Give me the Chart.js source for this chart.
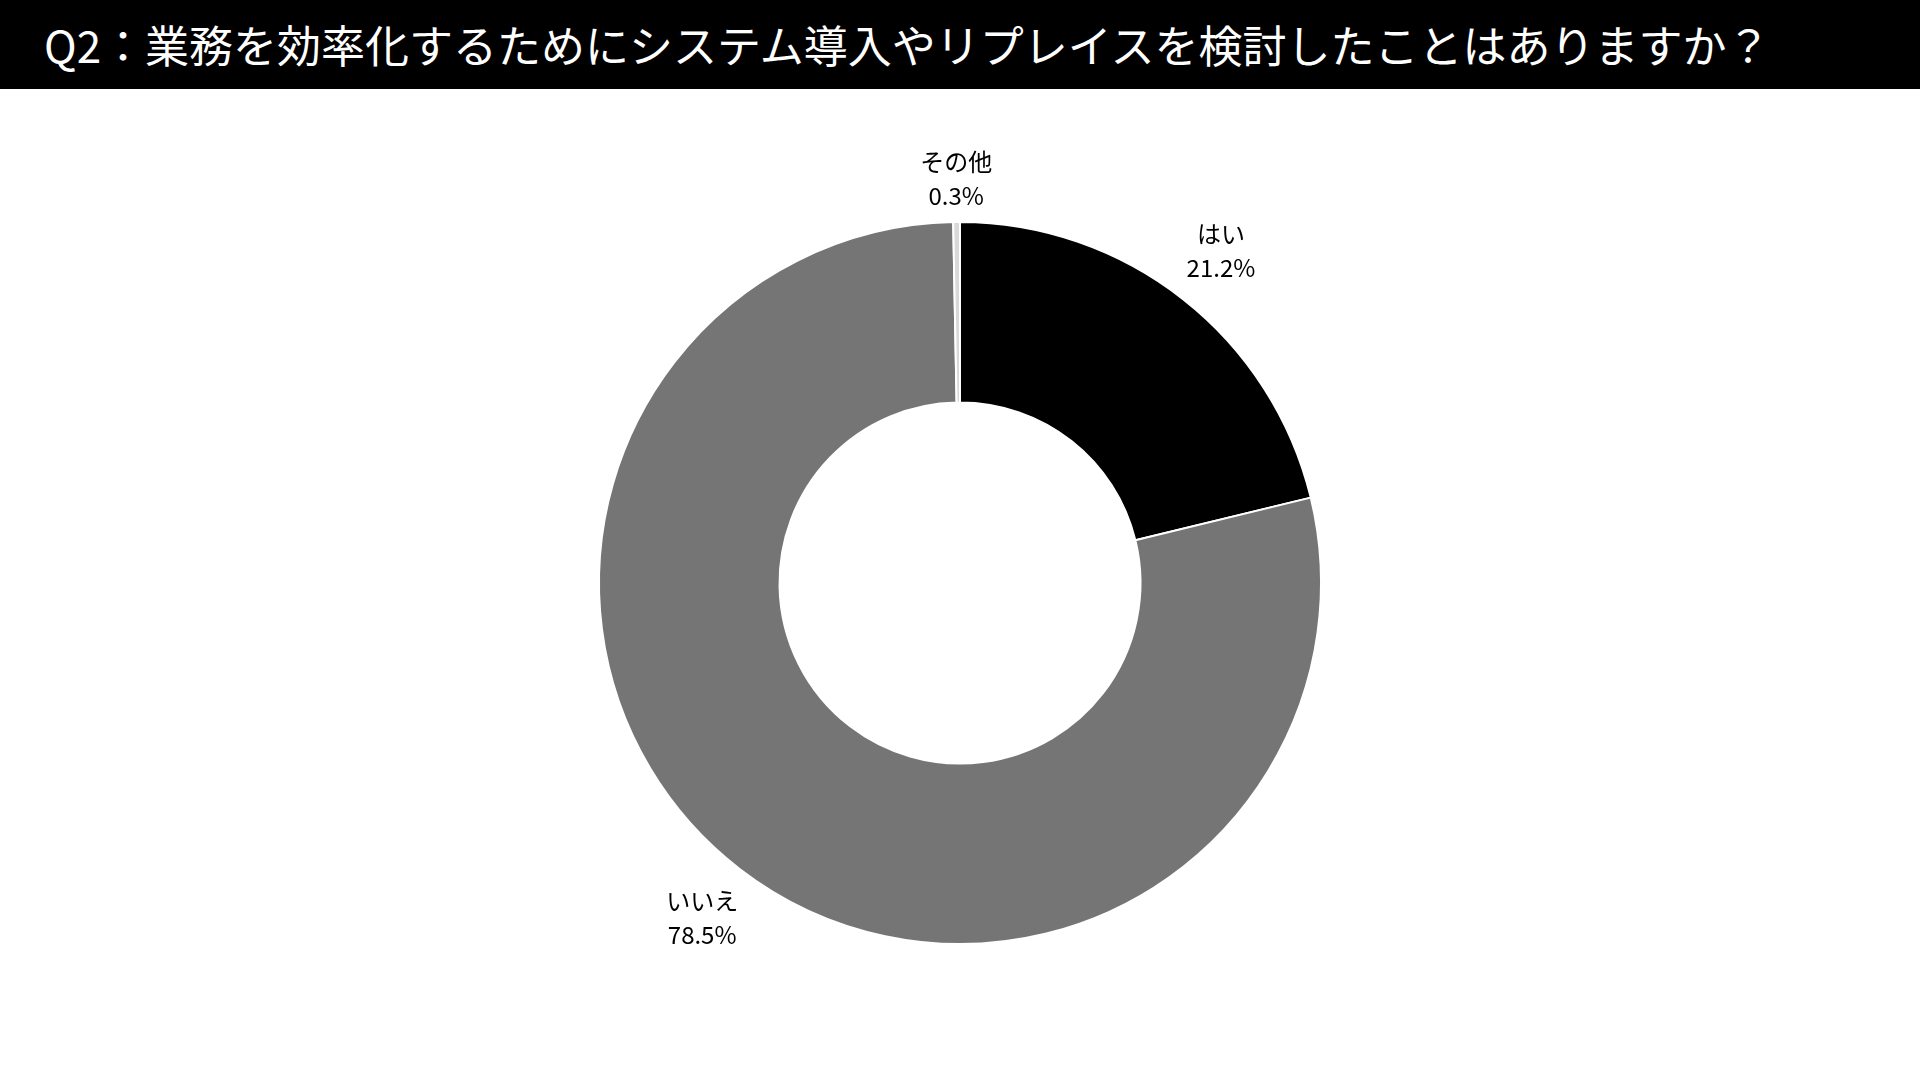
<!DOCTYPE html>
<html>
<head>
<meta charset="utf-8">
<script src="https://cdn.jsdelivr.net/npm/chart.js@4"></script>
<style>
  body { margin: 0; width: 1920px; height: 1080px; background: #fff; overflow: hidden;
         font-family: "Noto Sans CJK JP", "Noto Sans", sans-serif; }
  .title { position: absolute; left: 0; top: 0; width: 1920px; height: 89px; background: #000;
           color: #fff; font-size: 44px; line-height: 89px; padding-left: 44px; box-sizing: border-box; }
  .chart-box { position: absolute; left: 0; top: 89px; width: 1920px; height: 988px; }
</style>
</head>
<body>
<div class="title">Q2：業務を効率化するためにシステム導入やリプレイスを検討したことはありますか？</div>
<div class="chart-box"><canvas id="chart"></canvas></div>
<script>
const labels = ["はい", "いいえ", "その他"];
const values = [21.2, 78.5, 0.3];
const colors = ["#000000", "#757575", "#d9d9d9"];

// draws "label / value%" outside each slice
const outsideLabels = {
    id: "outsideLabels",
    afterDatasetsDraw(chart) {
        const { ctx } = chart;
        const meta = chart.getDatasetMeta(0);
        ctx.save();
        ctx.fillStyle = "#000";
        ctx.font = '24px "Noto Sans CJK JP"';
        ctx.textAlign = "center";
        ctx.textBaseline = "middle";
        meta.data.forEach((arc, i) => {
            const mid = (arc.startAngle + arc.endAngle) / 2;
            const r = arc.outerRadius * (i === 2 ? 1.12 : 1.17);
            const x = arc.x + Math.cos(mid) * r;
            const y = arc.y + Math.sin(mid) * r;
            ctx.fillText(labels[i], x, y - 17);
            ctx.fillText(values[i].toFixed(1) + "%", x, y + 17);
        });
        ctx.restore();
    }
};

new Chart(document.getElementById("chart"), {
    type: "doughnut",
    data: {
        labels: labels,
        datasets: [{
            data: values,
            backgroundColor: colors,
            borderColor: "#ffffff",
            borderWidth: 2
        }]
    },
    options: {
        responsive: true,
        maintainAspectRatio: false,
        animation: false,
        cutout: "50%",
        layout: { padding: 132 },
        plugins: {
            legend: { display: false },
            tooltip: { enabled: false }
        }
    },
    plugins: [outsideLabels]
});
</script>
</body>
</html>
